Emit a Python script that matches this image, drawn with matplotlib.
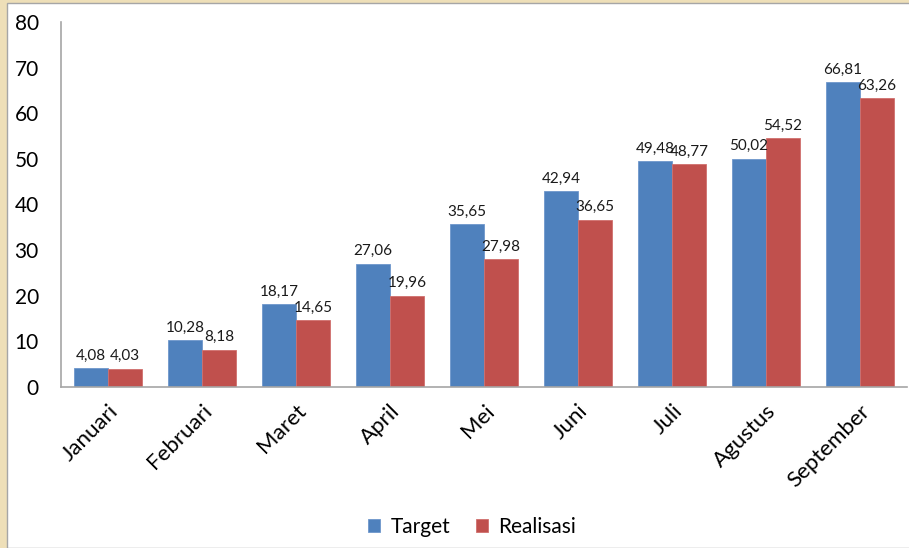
import numpy as np
import matplotlib.pyplot as plt
from matplotlib.patches import Rectangle

plt.rcParams['font.family'] = ['Lato', 'DejaVu Sans']

months = ['Januari', 'Februari', 'Maret', 'April', 'Mei', 'Juni', 'Juli', 'Agustus', 'September']
target = [4.08, 10.28, 18.17, 27.06, 35.65, 42.94, 49.48, 50.02, 66.81]
realisasi = [4.03, 8.18, 14.65, 19.96, 27.98, 36.65, 48.77, 54.52, 63.26]

blue = '#4F81BD'
red = '#C0504D'

fig = plt.figure(figsize=(9.09, 5.48), dpi=100)
fig.patch.set_facecolor('#EEDFB8')
# white slide area with thin grey frame
fig.patches.append(Rectangle((7 / 909, 0), 1, 1 - 3 / 548, transform=fig.transFigure,
                             facecolor='white', edgecolor='#A6A6A6', linewidth=1, zorder=-5))

ax = fig.add_axes([61 / 909, 1 - 387 / 548, 846 / 909, (387 - 22) / 548])
ax.set_facecolor('none')

x = np.arange(len(months))
w = 0.36
b1 = ax.bar(x - w / 2, target, w, color=blue, edgecolor='#6F97CC', linewidth=0.6, label='Target')
b2 = ax.bar(x + w / 2, realisasi, w, color=red, edgecolor='#D0706D', linewidth=0.6, label='Realisasi')

for bars, vals in [(b1, target), (b2, realisasi)]:
    for rect, v in zip(bars, vals):
        ax.annotate(f'{v:.2f}'.replace('.', ','), (rect.get_x() + rect.get_width() / 2, v),
                    xytext=(0, 4), textcoords='offset points', ha='center', va='bottom',
                    fontsize=11, color='#1a1a1a')

ax.set_xlim(-0.5, len(months) - 0.5)
ax.set_ylim(0, 80)
ax.set_yticks(np.arange(0, 81, 10))
ax.tick_params(axis='y', length=0, pad=16, labelsize=15)
ax.tick_params(axis='x', length=0, pad=10, labelsize=16)
ax.set_xticks(x)
ax.set_xticklabels(months, rotation=45, ha='right', rotation_mode='anchor')

for s in ['top', 'right']:
    ax.spines[s].set_visible(False)
for s in ['left', 'bottom']:
    ax.spines[s].set_color('#A6A6A6')
    ax.spines[s].set_linewidth(1.2)

fig.legend(handles=[b1, b2], labels=['Target', 'Realisasi'], loc='center',
           bbox_to_anchor=(472 / 909, 1 - 527 / 548), ncol=2, frameon=False,
           fontsize=15, handlelength=0.6, handleheight=0.6, handletextpad=0.5,
           columnspacing=1.2)

fig.savefig('out.png', dpi=100)
